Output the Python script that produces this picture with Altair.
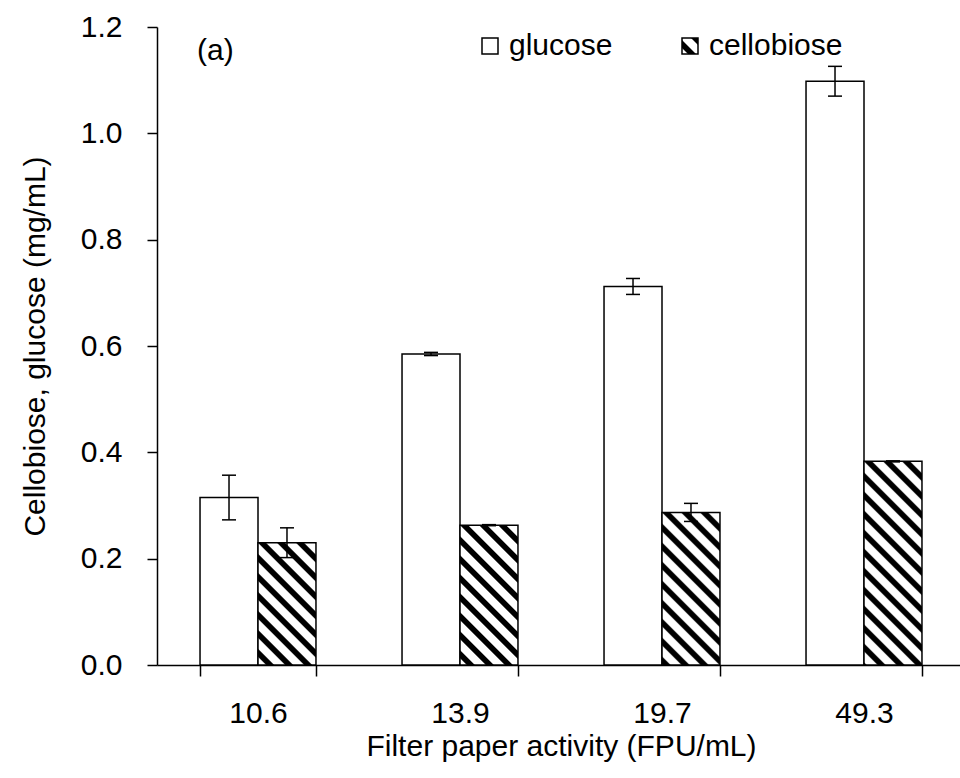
import math
import altair as alt
import pandas as pd

# Enzyme loading (filter paper activity) and sugar release
activity = ["10.6", "13.9", "19.7", "49.3"]
sugars = ["glucose", "cellobiose"]
glucose = [0.315, 0.585, 0.712, 1.098]
glucose_err = [0.042, 0.003, 0.015, 0.028]
cellobiose = [0.230, 0.263, 0.287, 0.383]
cellobiose_err = [0.028, 0.001, 0.017, 0.001]
y_ticks = [0.0, 0.2, 0.4, 0.6, 0.8, 1.0, 1.2]

rows = []
for i, a in enumerate(activity):
    rows.append({"activity": a, "sugar": "glucose", "value": glucose[i], "err": glucose_err[i]})
    rows.append({"activity": a, "sugar": "cellobiose", "value": cellobiose[i], "err": cellobiose_err[i]})
df = pd.DataFrame(rows)

# Layout
PLOT_W, PLOT_H = 803, 638
X_RANGE = 808            # last band runs slightly past the right edge
Y_MAX = 1.2
PAD_IN, PAD_OUT = 0.426, 0.213
FONT = "Liberation Sans"
FS = 30

step = X_RANGE / (len(activity) - PAD_IN + 2 * PAD_OUT)
bar_w = step * (1 - PAD_IN) / len(sugars)
px_per_unit = PLOT_H / Y_MAX


def stripe_color(u, period, black, phase):
    frac = ((u - phase) % period) / period
    return "black" if frac < black else "white"


def hatch_stops(w, h, period, black, phase, soft):
    """Stops for a '\\' hatch on a w x h box, as (offset, colour) pairs."""
    span = w + h
    pts = []
    n0 = math.floor((-h - phase) / period) - 1
    n1 = math.ceil((w - phase) / period) + 1
    for n in range(n0, n1 + 1):
        a = phase + n * period
        b = a + black * period
        pts += [(a - soft, "white"), (a + soft, "black"), (b - soft, "black"), (b + soft, "white")]
    stops = [(0.0, stripe_color(-h, period, black, phase))]
    for u, c in pts:
        t = (u + h) / span
        if 0 < t < 1:
            stops.append((round(t, 5), c))
    stops.append((1.0, stripe_color(w, period, black, phase)))
    return stops


def hatch_geometry(w, h):
    r = h / w
    k = (1 + r) / (1 + r * r)
    return 0.0, 1.0, round(k, 5), round(1 - k * r, 5)


def hatch_fill(w, h, period=19.0, black=0.42, phase=0.0, soft=0.8):
    x1, y1, x2, y2 = hatch_geometry(w, h)
    return alt.Gradient(
        gradient="linear", x1=x1, y1=y1, x2=x2, y2=y2,
        stops=[alt.GradientStop(offset=o, color=c)
               for o, c in hatch_stops(w, h, period, black, phase, soft)],
    )


def hatch_expr(w, h, period=19.0, black=0.42, phase=0.0, soft=0.6):
    x1, y1, x2, y2 = hatch_geometry(w, h)
    stops = ",".join("{offset:%s,color:'%s'}" % (o, c)
                     for o, c in hatch_stops(w, h, period, black, phase, soft))
    return "{gradient:'linear',x1:%s,y1:%s,x2:%s,y2:%s,stops:[%s]}" % (x1, y1, x2, y2, stops)


LEG = 16
sugar_scale = alt.Scale(domain=sugars,
                        range=["white", {"expr": hatch_expr(LEG, LEG, period=19.0, black=0.42, phase=-10.0)}])

x_enc = alt.X(
    "activity:N",
    sort=activity,
    scale=alt.Scale(domain=activity, range=[0, X_RANGE], paddingInner=PAD_IN, paddingOuter=PAD_OUT),
    axis=alt.Axis(
        title="Filter paper activity (FPU/mL)",
        labelAngle=0, tickBand="extent", tickSize=11, labelPadding=22, titlePadding=3,
    ),
)
xoff_enc = alt.XOffset("sugar:N", sort=sugars,
                       scale=alt.Scale(domain=sugars, paddingInner=0, paddingOuter=0))
y_scale = alt.Scale(domain=[0, Y_MAX], nice=False, zero=True)
y_enc = alt.Y(
    "value:Q",
    scale=y_scale,
    axis=alt.Axis(
        title="Cellobiose, glucose (mg/mL)",
        values=y_ticks, format=".1f", tickSize=10, labelPadding=25, titlePadding=30,
    ),
)

base = alt.Chart(df)

glucose_bars = base.transform_filter(alt.FieldEqualPredicate(field="sugar", equal="glucose")).mark_bar(
    stroke="black", strokeWidth=1.5
).encode(
    x=x_enc, xOffset=xoff_enc, y=y_enc,
    fill=alt.Fill("sugar:N", scale=sugar_scale,
                  legend=alt.Legend(
                      title=None, orient="none", direction="horizontal",
                      legendX=318, legendY=4, symbolType="square", symbolSize=LEG * LEG,
                      symbolStrokeColor="black", symbolStrokeWidth=1.5,
                      labelFontSize=FS, labelFont=FONT, labelColor="black",
                      labelOffset=4, columnPadding=62, padding=0, symbolOpacity=1,
                  )),
)

layers = [glucose_bars]

# Hatched cellobiose bars, one per loading so the stripes keep their slope
for a, v in zip(activity, cellobiose):
    h = v * px_per_unit
    layers.append(
        base.transform_filter(
            alt.FieldEqualPredicate(field="activity", equal=a)
        ).transform_filter(
            alt.FieldEqualPredicate(field="sugar", equal="cellobiose")
        ).mark_bar(fill=hatch_fill(bar_w, h), stroke="black", strokeWidth=1.5).encode(
            x=x_enc, xOffset=xoff_enc, y=y_enc,
        )
    )

err = base.transform_calculate(lo="datum.value - datum.err", hi="datum.value + datum.err")
layers.append(
    err.mark_rule(color="black", strokeWidth=1.5).encode(
        x=x_enc, xOffset=xoff_enc, y=alt.Y("lo:Q", scale=y_scale), y2="hi:Q"
    )
)
for field in ["lo", "hi"]:
    layers.append(
        err.mark_tick(color="black", thickness=1.5, size=14, opacity=1).encode(
            x=x_enc, xOffset=xoff_enc, y=alt.Y(f"{field}:Q", scale=y_scale)
        )
    )

panel_label = alt.Chart(pd.DataFrame({"label": ["(a)"]})).mark_text(
    font=FONT, fontSize=FS, color="black", align="left", baseline="middle"
).encode(x=alt.value(40), y=alt.value(24), text="label:N")
layers.append(panel_label)

chart = alt.layer(*layers).properties(
    width=PLOT_W,
    height=PLOT_H,
    padding={"left": 157, "top": 27, "right": 0, "bottom": 113},
    autosize=alt.AutoSizeParams(type="none"),
    background="white",
).configure_view(stroke=None).configure_axis(
    domainColor="black", domainWidth=1.5, tickColor="black", tickWidth=1.5,
    labelColor="black", labelFont=FONT, labelFontSize=FS,
    titleColor="black", titleFont=FONT, titleFontSize=FS, titleFontWeight="normal",
    grid=False,
)

chart.save("out.html", embed_options={"renderer": "svg", "actions": False})
